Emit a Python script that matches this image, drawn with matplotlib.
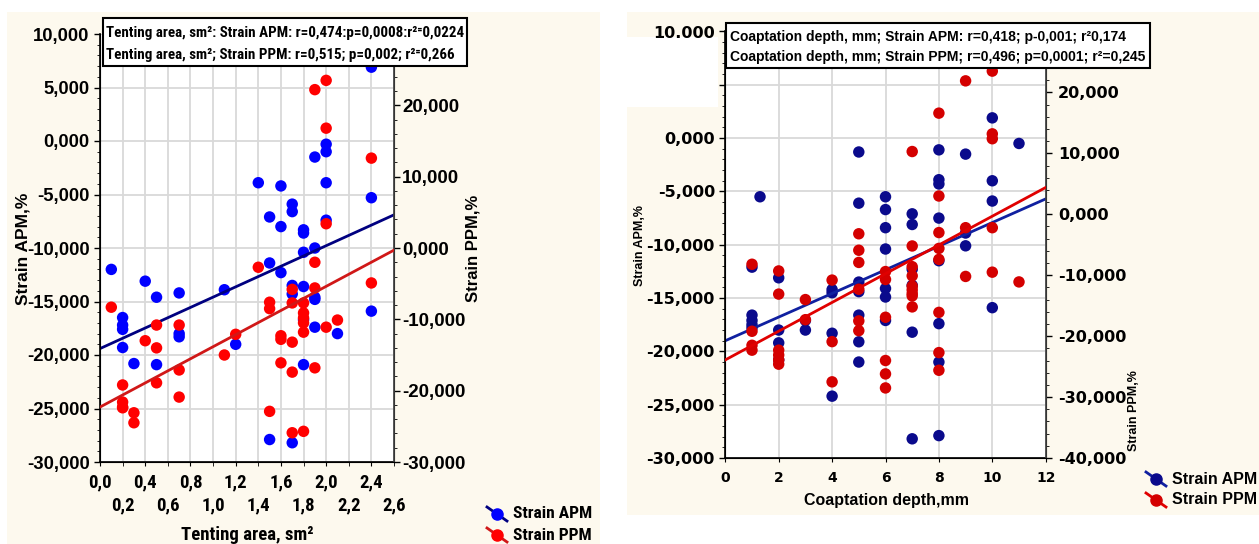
import numpy as np
import matplotlib
matplotlib.use("Agg")
import matplotlib.pyplot as plt
from matplotlib.patches import Rectangle
from matplotlib.lines import Line2D
from matplotlib.ticker import MultipleLocator, FixedLocator

# ---- data: left panel (tenting area) ----
tent_x_apm = [0.1, 0.4, 1.4, 1.5, 1.6, 1.6, 1.7, 1.7, 1.8, 1.8, 1.8, 1.9, 1.9, 2.0, 2.0, 2.0,
              2.0, 2.4, 2.4, 1.5, 1.6, 0.5, 0.7, 0.2, 0.2, 0.2, 0.2, 0.3, 0.5, 0.7, 0.7, 1.1,
              1.2, 1.7, 1.7, 1.8, 1.9, 1.9, 1.9, 2.1, 1.8, 1.5, 1.7, 2.4, 1.8]
tent_apm = [-12.0, -13.1, -3.9, -7.1, -4.2, -8.0, -5.9, -6.6, -8.3, -8.6, -10.4, -1.5, -10.0,
            -0.3, -1.0, -3.9, -7.4, 6.9, -5.3, -11.4, -12.3, -14.6, -14.2, -16.5, -17.2, -17.6,
            -19.3, -20.8, -20.9, -18.0, -18.3, -13.9, -19.0, -13.5, -14.3, -13.6, -14.6, -14.8,
            -17.4, -18.0, -20.9, -27.9, -28.2, -15.9, -16.7]
tent_x_ppm = [1.9, 2.0, 2.0, 2.4, 2.0, 1.4, 1.9, 0.1, 0.5, 0.7, 0.4, 0.5, 0.7, 0.7, 0.2, 0.2,
              0.2, 0.2, 0.3, 0.3, 0.5, 1.1, 1.2, 1.5, 1.5, 1.6, 1.6, 1.6, 1.7, 1.7, 1.7, 1.7,
              1.8, 1.8, 1.8, 1.8, 1.8, 1.9, 1.9, 2.0, 2.1, 2.4, 1.5, 1.7, 1.8]
tent_ppm = [22.2, 23.5, 16.8, 12.6, 3.4, -2.7, -2.0, -8.3, -10.8, -10.8, -13.0, -14.0, -17.1,
            -20.9, -19.2, -21.6, -22.3, -22.4, -23.1, -24.5, -18.9, -15.0, -12.1, -7.6, -8.5,
            -12.3, -12.8, -16.1, -5.8, -7.7, -13.2, -17.4, -7.7, -9.1, -9.8, -10.5, -11.8,
            -5.6, -16.8, -11.1, -10.1, -4.9, -22.9, -25.9, -25.7]
tent_fit_x = [0.0, 2.6]
tent_fit_apm = [-19.4, -6.9]
tent_fit_ppm = [-22.3, -0.3]

# ---- data: right panel (coaptation depth) ----
coap_x_apm = [1, 1.3, 2, 5, 5, 6, 6, 6, 6, 7, 7, 8, 8, 8, 8, 8, 7, 1, 1, 1, 1, 2, 2, 2, 3, 3,
              4, 4, 4, 4, 5, 5, 5, 5, 5, 6, 6, 6, 7, 7, 7, 8, 8, 8, 10, 11, 9, 10, 10, 9, 10, 9]
coap_apm = [-12.1, -5.5, -13.1, -1.3, -6.1, -5.5, -6.7, -8.4, -10.4, -7.1, -8.1, -1.1, -3.9,
            -4.3, -7.5, -11.5, -12.3, -16.6, -17.1, -17.5, -17.8, -18.0, -19.2, -20.8, -18.0,
            -17.1, -14.2, -14.5, -18.3, -24.2, -13.5, -14.4, -16.6, -19.1, -21.0, -14.1, -14.9,
            -17.1, -13.8, -18.2, -28.2, -17.4, -21.0, -27.9, 1.9, -0.5, -1.5, -4.0, -5.9, -10.1,
            -15.9, -8.9]
coap_x_ppm = [1, 2, 4, 5, 5, 5, 7, 7, 8, 8, 8, 8, 8, 7, 1, 1, 1, 2, 2, 2, 2, 2, 3, 3, 4, 4,
              5, 5, 5, 6, 6, 6, 6, 6, 6, 7, 7, 7, 7, 7, 7, 8, 8, 8, 9, 10, 10, 10, 9, 10, 9, 10, 11]
coap_ppm = [-8.2, -9.3, -10.8, -3.2, -5.9, -7.9, 10.3, -5.2, 16.6, 3.0, -3.0, -5.6, -7.4, -8.6,
            -19.2, -21.5, -22.3, -13.1, -22.3, -23.1, -23.9, -24.6, -14.0, -17.3, -20.9, -27.5,
            -12.3, -17.5, -19.1, -9.4, -10.7, -16.9, -24.0, -26.2, -28.5, -10.1, -11.8, -12.4,
            -13.0, -13.4, -15.2, -16.1, -22.7, -25.6, 21.9, 23.5, 13.2, 12.4, -2.2, -2.2, -10.2,
            -9.5, -11.1]
coap_fit_x = [0, 12]
coap_fit_apm = [-19.0, -5.7]
coap_fit_ppm = [-23.9, 4.4]

W, H = 1259, 544
ARIAL = ["Liberation Sans", "DejaVu Sans"]
WIDE = ["DejaVu Sans"]
NARROW = ["Roboto Condensed", "Liberation Sans Narrow", "DejaVu Sans Condensed",
          "Liberation Sans", "DejaVu Sans"]
plt.rcParams["font.family"] = ARIAL
plt.rcParams["font.weight"] = "bold"

CREAM = "#fdf9ee"
GRID = "#d9d9d9"
DOT = 68


def fx(px):
    return px / W


def fy(py):
    return 1 - py / H


def dec(v, n=3):
    return f"{v:.{n}f}".replace(".", ",")


fig = plt.figure(figsize=(W / 100, H / 100), dpi=100)
fig.patch.set_facecolor("white")

# panel backgrounds
fig.add_artist(Rectangle((fx(7), 0), 593 / W, 532 / H, transform=fig.transFigure,
                         facecolor=CREAM, edgecolor="none", zorder=-10))
fig.add_artist(Rectangle((fx(627), fy(515)), 632 / W, 503 / H, transform=fig.transFigure,
                         facecolor=CREAM, edgecolor="none", zorder=-10))
fig.add_artist(Rectangle((fx(627), fy(107)), 91 / W, 70 / H, transform=fig.transFigure,
                         facecolor="white", edgecolor="none", zorder=-9))


def style_axes(ax, ax2):
    ax.set_facecolor("white")
    ax.set_axisbelow(True)
    ax.grid(True, which="major", color=GRID, lw=1.3)
    ax.spines["top"].set_visible(False)
    ax2.spines["top"].set_visible(False)
    for s in ("left", "bottom"):
        ax.spines[s].set_color("black")
        ax.spines[s].set_linewidth(1.2)
    ax2.spines["right"].set_color("#404040")
    ax2.spines["right"].set_linewidth(1.2)
    ax.tick_params(axis="y", which="major", length=4, width=1)
    ax.tick_params(axis="y", which="minor", length=2)
    ax2.tick_params(axis="y", which="major", length=4, width=1, pad=2)
    ax2.tick_params(axis="y", which="minor", length=2)
    ax.tick_params(axis="x", length=3)


# ---- left panel ----
axL = fig.add_axes([fx(100), fy(462), 294 / W, 428 / H])
axL2 = axL.twinx()
style_axes(axL, axL2)
axL.set_xlim(0, 2.6)
axL.set_ylim(-30, 10)
axL2.set_ylim(-30, 30)

xt_top = np.round(np.arange(0, 2.41, 0.4), 1)
xt_low = np.round(np.arange(0.2, 2.61, 0.4), 1)
axL.xaxis.set_major_locator(FixedLocator(xt_top))
axL.xaxis.set_minor_locator(FixedLocator(xt_low))
axL.set_xticklabels([dec(v, 1) for v in xt_top], family=NARROW, fontsize=13.5, weight="bold")
axL.set_xticklabels([dec(v, 1) for v in xt_low], minor=True, family=NARROW, fontsize=13.5,
                    weight="bold")
axL.tick_params(axis="x", which="major", pad=5, length=3)
axL.tick_params(axis="x", which="minor", pad=22, length=3)
axL.grid(True, which="minor", axis="x", color=GRID, lw=1.3)

yt = np.arange(-30, 10.1, 5)
axL.set_yticks(yt)
axL.set_yticklabels([dec(v) for v in yt], fontsize=13.3, weight="bold")
axL.yaxis.set_minor_locator(MultipleLocator(1))
yt2 = np.arange(-30, 20.1, 10)
axL2.set_yticks(yt2)
axL2.set_yticklabels([dec(v) for v in yt2], fontsize=13.5, weight="bold")
axL2.yaxis.set_minor_locator(MultipleLocator(2))

axL.scatter(tent_x_apm, tent_apm, s=DOT, color="#0000ff", edgecolors="none", zorder=3)
axL.plot(tent_fit_x, tent_fit_apm, color="#000080", lw=2, zorder=4)
axL2.scatter(tent_x_ppm, tent_ppm, s=DOT, color="#ff0000", edgecolors="none", zorder=3)
axL2.plot(tent_fit_x, tent_fit_ppm, color="#d01818", lw=2, zorder=4)

fig.text(fx(23), fy(249), "Strain APM,%", rotation=90, ha="center", va="center",
         fontsize=12.5, weight="bold")
fig.text(fx(473), fy(248), "Strain PPM,%", rotation=90, ha="center", va="center",
         fontsize=12, weight="bold")
fig.text(fx(247), fy(535), "Tenting area, sm²", ha="center", va="center",
         family=NARROW, fontsize=13.5, weight="bold")

fig.add_artist(Rectangle((fx(103), fy(66)), 364 / W, 48 / H, transform=fig.transFigure,
                         facecolor="white", edgecolor="black", lw=1.5, zorder=10))
fig.text(fx(106), fy(33), "Tenting area, sm²: Strain APM: r=0,474:p=0,0008:r²⁼0,0224",
         ha="left", va="center", family=NARROW, fontsize=10.8, weight="bold", zorder=11)
fig.text(fx(106), fy(55), "Tenting area, sm²; Strain PPM: r=0,515; p=0,002; r²⁼0,266",
         ha="left", va="center", family=NARROW, fontsize=10.8, weight="bold", zorder=11)

# ---- right panel ----
axR = fig.add_axes([fx(725.3), fy(458), 320.4 / W, 426.5 / H])
axR2 = axR.twinx()
style_axes(axR, axR2)
axR.set_xlim(0, 12)
axR.set_ylim(-30, 10)
axR2.set_ylim(-40, 30)

axR.set_xticks(np.arange(0, 12.1, 2))
axR.set_xticklabels([str(v) for v in range(0, 13, 2)], family=WIDE, fontsize=10, weight="bold")
axR.tick_params(axis="x", pad=6)
axR.set_yticks(yt)
axR.set_yticklabels([dec(v) if v != 5 else "" for v in yt[:-1]] + ["10.000"],
                    family=WIDE, fontsize=11.5, weight="bold")
axR.yaxis.set_minor_locator(MultipleLocator(1))
yt3 = np.arange(-40, 20.1, 10)
axR2.set_yticks(yt3)
axR2.set_yticklabels([dec(v) for v in yt3], family=WIDE, fontsize=11.5, weight="bold")
axR2.tick_params(axis="y", pad=5)
axR2.yaxis.set_minor_locator(MultipleLocator(2))

axR.scatter(coap_x_apm, coap_apm, s=DOT, color="#0a0a8c", edgecolors="none", zorder=3)
axR.plot(coap_fit_x, coap_fit_apm, color="#1020a0", lw=2, zorder=4)
axR2.scatter(coap_x_ppm, coap_ppm, s=DOT, color="#d40000", edgecolors="none", zorder=3)
axR2.plot(coap_fit_x, coap_fit_ppm, color="#e00000", lw=2, zorder=4)

fig.text(fx(640), fy(246), "Strain APM,%", rotation=90, ha="center", va="center",
         fontsize=9, weight="bold")
fig.text(fx(1134), fy(411), "Strain PPM,%", rotation=90, ha="center", va="center",
         fontsize=9, weight="bold")
fig.text(fx(886), fy(500), "Coaptation depth,mm", ha="center", va="center",
         fontsize=11.5, weight="bold")

fig.add_artist(Rectangle((fx(726), fy(68)), 424 / W, 45 / H, transform=fig.transFigure,
                         facecolor="white", edgecolor="black", lw=1.5, zorder=10))
fig.text(fx(730), fy(37), "Coaptation depth, mm; Strain APM: r=0,418; p-0,001; r²0,174",
         ha="left", va="center", fontsize=10, weight="bold", zorder=11)
fig.text(fx(730), fy(57), "Coaptation depth, mm; Strain PPM; r=0,496; p=0,0001; r²=0,245",
         ha="left", va="center", fontsize=10, weight="bold", zorder=11)


# ---- legends ----
def legend_item(x0, yc, line_c, dot_c, label, family, size):
    fig.add_artist(Line2D([fx(x0), fx(x0 + 20)], [fy(yc - 7), fy(yc + 7)],
                          transform=fig.transFigure, color=line_c, lw=2, zorder=12))
    fig.add_artist(Line2D([fx(x0 + 10)], [fy(yc)], transform=fig.transFigure,
                          marker="o", ms=8, color=dot_c, lw=0, zorder=13))
    fig.text(fx(x0 + 26), fy(yc), label, ha="left", va="center", family=family,
             fontsize=size, weight="bold")


legend_item(487, 514, "#000080", "#0000ff", "Strain APM", NARROW, 12.5)
legend_item(487, 535, "#d01818", "#ff0000", "Strain PPM", NARROW, 12.5)
legend_item(1146, 479, "#1020a0", "#0a0a8c", "Strain APM", ARIAL, 11.5)
legend_item(1146, 500, "#e00000", "#d40000", "Strain PPM", ARIAL, 11.5)

fig.savefig("out.png", dpi=100)
